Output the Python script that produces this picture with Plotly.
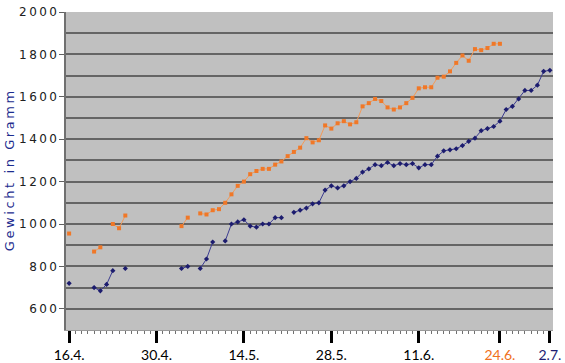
import plotly.graph_objects as go

# day index 0 = 16.4.
days = list(range(78))

blue_weights = [720, None, None, None, 700, 685, 715, 780, None, 790,
                None, None, None, None, None, None, None, None,
                790, 800, None, 790, 835, 915, None,
                920, 1000, 1010, 1020, 990, 985, 1000, 1000, 1030, 1030, None,
                1055, 1065, 1075, 1095, 1100, 1160, 1180, 1170, 1180, 1200,
                1215, 1245, 1260, 1280, 1275, 1290, 1275, 1285, 1280, 1285, 1265, 1280, 1280, 1320,
                1345, 1350, 1355, 1370, 1390, 1405, 1440, 1450, 1460, 1485, 1540, 1555, 1590,
                1630, 1630, 1655, 1720, 1725]

orange_weights = [955, None, None, None, 870, 890, None, 1000, 980, 1040,
                  None, None, None, None, None, None, None, None,
                  990, 1030, None,
                  1050, 1045, 1065, 1070, 1100, 1140, 1180, 1200, 1235, 1250,
                  1260, 1260, 1280, 1295, 1320, 1340, 1360, 1405, 1385, 1395,
                  1465, 1450, 1475, 1485, 1470, 1480, 1555, 1570, 1590, 1580,
                  1550, 1540, 1550, 1570, 1595, 1640, 1645, 1645, 1690, 1695,
                  1720, 1760, 1795, 1770, 1825, 1820, 1830, 1850, 1850,
                  None, None, None, None, None, None, None, None]

x_tick_days = [0, 14, 28, 42, 56, 69, 77]
x_tick_labels = ["16.4.", "30.4.", "14.5.", "28.5.", "11.6.", "24.6.", "2.7."]
x_tick_colors = ["#000000", "#000000", "#000000", "#000000", "#000000", "#F07020", "#1C1C72"]

y_tick_vals = [600, 800, 1000, 1200, 1400, 1600, 1800, 2000]
y_tick_labels = ["\u2009".join(str(v)) for v in y_tick_vals]

ORANGE = "#F07828"
ORANGE_LINE = "#F49A58"
NAVY = "#1C1C6E"
NAVY_LINE = "#3C3C90"

fig = go.Figure()
fig.add_trace(go.Scatter(
    x=days, y=orange_weights, mode="lines+markers", connectgaps=False,
    line=dict(color=ORANGE_LINE, width=1),
    marker=dict(symbol="square", size=4, color=ORANGE),
    showlegend=False))
fig.add_trace(go.Scatter(
    x=days, y=blue_weights, mode="lines+markers", connectgaps=False,
    line=dict(color=NAVY_LINE, width=1),
    marker=dict(symbol="diamond", size=4, color=NAVY),
    showlegend=False))

ticktext = [f"<span style='color:{c}'>{t}</span>" for t, c in zip(x_tick_labels, x_tick_colors)]

fig.update_layout(
    width=565, height=363,
    margin=dict(l=66, r=12, t=12, b=33),
    paper_bgcolor="white",
    plot_bgcolor="#C0C0C0",
    xaxis=dict(
        range=[-0.5, 77.5], showgrid=False, zeroline=False, automargin=False,
        tickvals=x_tick_days, ticktext=ticktext,
        ticks="outside", ticklen=12, tickwidth=3, tickcolor="black",
        tickfont=dict(family="Lato", size=14, color="black"),
        showline=True, linecolor="#9A9A9A", linewidth=1,
        minor=dict(dtick=1, tick0=0, ticks="outside", ticklen=3, tickwidth=1, tickcolor="#707070"),
    ),
    yaxis=dict(
        range=[500, 2000], zeroline=False, automargin=False,
        tickvals=y_tick_vals, ticktext=y_tick_labels,
        ticks="outside", ticklen=5, tickcolor="#606060", tickwidth=1,
        tickfont=dict(family="DejaVu Sans", size=12, color="#202020"),
        showgrid=True, gridcolor="#656565", gridwidth=1.5,
        minor=dict(dtick=100, tick0=0, showgrid=True, gridcolor="#656565", gridwidth=1.5, ticks=""),
        showline=True, linecolor="#707070", linewidth=1.5,
        title=dict(text="\u2009".join("Gewicht in Gramm"), font=dict(family="DejaVu Sans", size=13, color="#1C2C8E"), standoff=2),
    ),
)

fig.write_html("out.html", config={"displayModeBar": False},
               post_script="document.body.style.margin='0';document.body.style.overflow='hidden';")
